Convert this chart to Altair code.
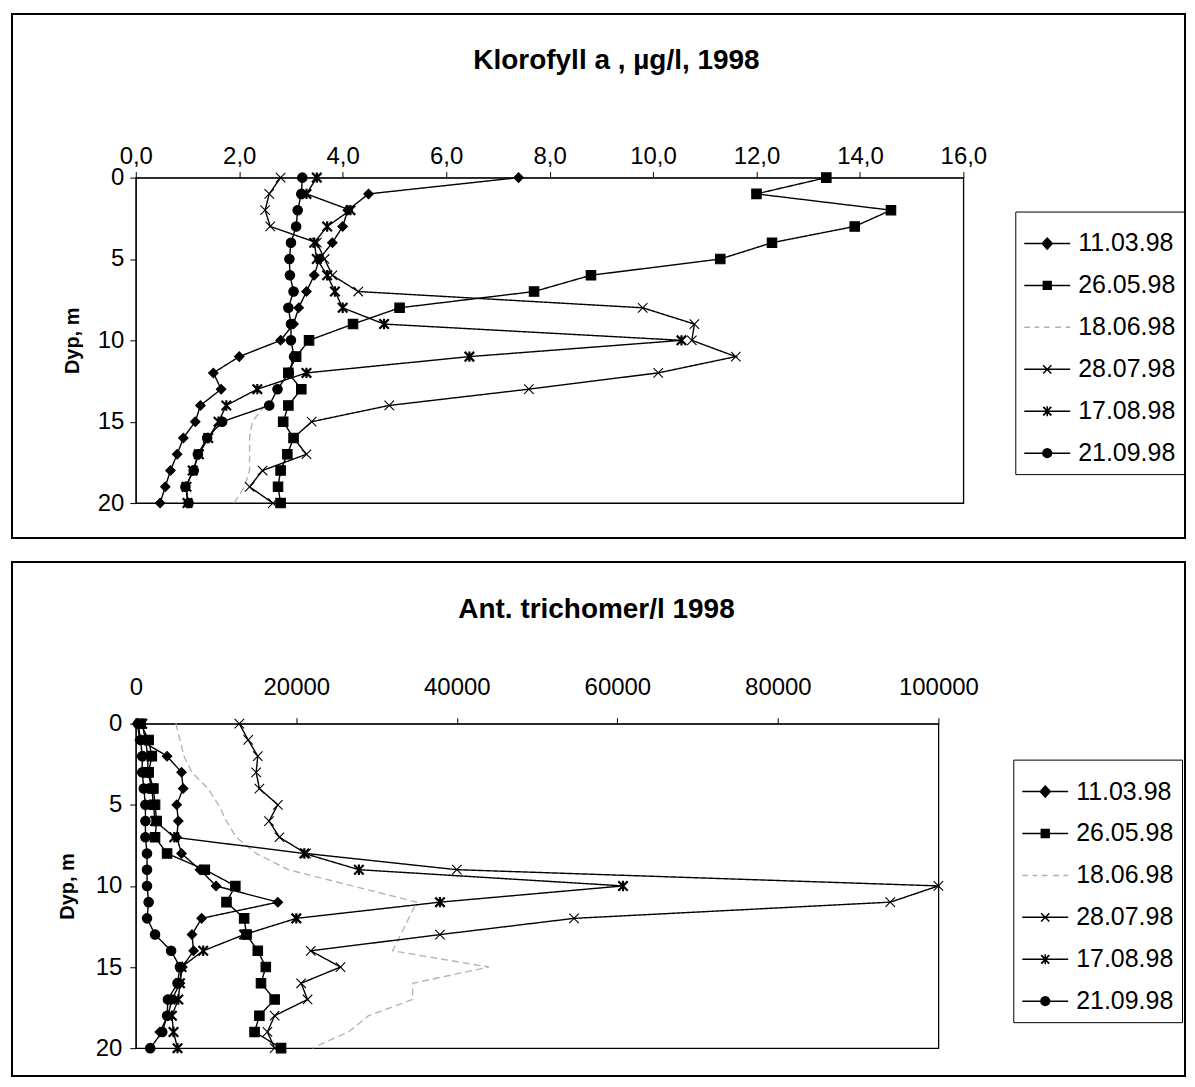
import math
import altair as alt
import pandas as pd

depths = list(range(21))
series_names = ["11.03.98", "26.05.98", "18.06.98", "28.07.98", "17.08.98", "21.09.98"]

# Klorofyll a, ug/l (one value per depth 0..20 m)
chl_1103 = [7.4, 4.5, 4.1, 4.0, 3.8, 3.55, 3.45, 3.3, 3.15, 3.05, 2.8, 2.0, 1.5, 1.65, 1.25, 1.15, 0.92, 0.8, 0.67, 0.57, 0.47]
chl_2605 = [13.35, 12.0, 14.6, 13.9, 12.3, 11.3, 8.8, 7.7, 5.1, 4.2, 3.35, 3.1, 2.95, 3.2, 2.95, 2.85, 3.05, 2.93, 2.8, 2.75, 2.8]
chl_1806 = [None] * 14 + [2.5, 2.25, 2.2, 2.2, 2.2, 2.1, 1.9]
chl_2807 = [2.8, 2.58, 2.5, 2.6, 3.5, 3.65, 3.8, 4.3, 9.8, 10.8, 10.75, 11.6, 10.1, 7.6, 4.9, 3.4, 3.05, 3.3, 2.45, 2.2, 2.65]
chl_1708 = [3.5, 3.3, 4.15, 3.7, 3.45, 3.5, 3.7, 3.85, 4.0, 4.8, 10.55, 6.45, 3.3, 2.35, 1.75, 1.6, 1.4, 1.22, 1.1, 0.98, 1.0]
chl_2109 = [3.22, 3.2, 3.13, 3.1, 3.0, 2.97, 2.98, 3.05, 2.95, 3.0, 3.0, 3.06, 2.96, 2.74, 2.58, 1.67, 1.38, 1.2, 1.12, 0.96, 1.02]

# Ant. trichomer/l
tri_1103 = [200, 500, 3900, 5700, 5900, 5100, 5300, 5100, 5700, 8000, 10000, 17700, 8200, 7000, 7200, 5800, 5500, 4500, 4000, 3000, None]
tri_2605 = [600, 1600, 2000, 1600, 2200, 2400, 2600, 2400, 3900, 8600, 12400, 11300, 13500, 13800, 15200, 16200, 15600, 17300, 15400, 14800, 18100]
tri_1806 = [5000, 5500, 6000, 7000, 9000, 10300, 11300, 12500, 15000, 19000, 27000, 35000, 34000, 33000, 32000, 44000, 34500, 34500, 29000, 26500, 22000]
tri_2807 = [12900, 14000, 15200, 15000, 15400, 17700, 16600, 17900, 21200, 40000, 100000, 94000, 54600, 37900, 21800, 25500, 20600, 21400, 17300, 16400, 17300]
tri_1708 = [800, 1200, 1500, 1500, 2000, 2200, 2400, 4800, 21000, 27800, 60700, 37900, 20000, 13500, 8400, 5700, 5500, 5300, 4500, 4700, 5200]
tri_2109 = [300, 600, 800, 800, 1000, 1200, 1200, 1200, 1400, 1400, 1400, 1600, 1400, 2400, 4400, 5500, 5200, 4000, 3900, 3300, 1800]

chl_ticks = [0, 2, 4, 6, 8, 10, 12, 14, 16]
tri_ticks = [0, 20000, 40000, 60000, 80000, 100000]
depth_ticks = [0, 5, 10, 15, 20]

FONT = "Liberation Sans"

line_colors = ["black", "black", "#b5b5b5", "black", "black", "black"]
line_dashes = [[1, 0], [1, 0], [7, 4], [1, 0], [1, 0], [1, 0]]

marker_names = ["11.03.98", "26.05.98", "28.07.98", "17.08.98", "21.09.98"]
X_PATH = "M-1,-1L1,1M-1,1L1,-1"
AST_PATH = "M-1,-1L1,1M-1,1L1,-1M0,-1.1L0,1.1"
marker_shapes = ["diamond", "square", X_PATH, AST_PATH, "circle"]


# legend symbols: a line with a (stroke-hatched, so solid-looking) marker
def hatched(halfwidth_fn, r):
    parts = []
    y = -r
    while y <= r + 1e-9:
        hw = halfwidth_fn(y)
        if hw > 0:
            parts.append(f"M{-hw:.3f},{y:.3f}L{hw:.3f},{y:.3f}")
        y += 0.035
    return "".join(parts)


LINE = "M-1,0L1,0"
leg_diamond = LINE + "M0,-0.24L0.22,0L0,0.24L-0.22,0Z" + hatched(lambda y: 0.22 * (1 - abs(y) / 0.24), 0.24)
leg_square = LINE + "M-0.17,-0.17L0.17,-0.17L0.17,0.17L-0.17,0.17Z" + hatched(lambda y: 0.17, 0.17)
leg_dash = "M-1,0L-0.75,0M-0.55,0L-0.35,0M-0.15,0L0.1,0M0.35,0L0.6,0M0.8,0L1,0"
leg_x = LINE + "M-0.18,-0.18L0.18,0.18M-0.18,0.18L0.18,-0.18"
leg_ast = LINE + "M-0.18,-0.18L0.18,0.18M-0.18,0.18L0.18,-0.18M0,-0.22L0,0.22M-0.15,-0.18L0.15,0.18M-0.15,0.18L0.15,-0.18"
leg_circle = LINE + "M0.19,0A0.19,0.19 0 1,1 -0.19,0A0.19,0.19 0 1,1 0.19,0Z" + hatched(
    lambda y: math.sqrt(max(0.0, 0.19 ** 2 - y ** 2)), 0.19)
legend_paths = [leg_diamond, leg_square, leg_dash, leg_x, leg_ast, leg_circle]
legend_colors = ["black", "black", "#b0b0b0", "black", "black", "black"]


def long_df(cols):
    rows = []
    for name, vals in zip(series_names, cols):
        for d, v in zip(depths, vals):
            if v is not None:
                rows.append({"series": name, "depth": d, "value": v})
    return pd.DataFrame(rows)


def panel(df, xdomain, xticks, label_expr, title, title_x, title_pad, w, h,
          lx, ly, rect, ytitle_pad, xlabel_pad, ylabel_pad):
    xenc = alt.X(
        "value:Q",
        scale=alt.Scale(domain=xdomain, nice=False, zero=False),
        axis=alt.Axis(
            orient="top", values=xticks, labelExpr=label_expr, title=title,
            titleX=title_x, titleAlign="center", titlePadding=title_pad,
            titleFontSize=28, titleFontWeight="bold", titleFont=FONT,
            labelFontSize=24, labelFont=FONT, labelPadding=xlabel_pad,
            tickSize=6, grid=False, domainColor="black", tickColor="black",
            labelColor="black", titleColor="black", labelFlush=False,
        ),
    )
    yenc = alt.Y(
        "depth:Q",
        scale=alt.Scale(domain=[0, 20], reverse=True, nice=False),
        axis=alt.Axis(
            values=depth_ticks, title="Dyp, m", titleFontSize=20,
            titleFontWeight="bold", titleFont=FONT, titlePadding=ytitle_pad,
            labelFontSize=24, labelFont=FONT, labelPadding=ylabel_pad,
            tickSize=6, grid=False, domainColor="black", tickColor="black",
            labelColor="black", titleColor="black", labelFlush=False,
        ),
    )
    frame = alt.Chart(pd.DataFrame({"k": [0]})).mark_rect(
        fillOpacity=0, stroke="black", strokeWidth=2
    ).encode(
        x=alt.value(rect[0]), x2=alt.value(rect[1]),
        y=alt.value(rect[2]), y2=alt.value(rect[3]),
    )
    lines = alt.Chart(df).mark_line(strokeWidth=1.4).encode(
        x=xenc, y=yenc, detail="series:N", order="depth:Q",
        color=alt.Color("series:N", scale=alt.Scale(domain=series_names, range=line_colors), legend=None),
        strokeDash=alt.StrokeDash("series:N", scale=alt.Scale(domain=series_names, range=line_dashes), legend=None),
    )
    pts = alt.Chart(df).transform_filter(
        alt.datum.series != "18.06.98"
    ).mark_point(filled=True, color="black", stroke="black", opacity=1, size=90).encode(
        x=xenc, y=yenc,
        shape=alt.Shape("series:N", scale=alt.Scale(domain=marker_names, range=marker_shapes), legend=None),
        strokeWidth=alt.condition(alt.datum.series == "17.08.98", alt.value(2.2), alt.value(1.1)),
    )
    leg_props = dict(
        title=None, orient="none", legendX=lx, legendY=ly,
        labelFontSize=25, labelFont=FONT, labelColor="black", labelOffset=7,
        symbolSize=2116, symbolStrokeWidth=1.5, rowPadding=5, padding=8,
        strokeColor="black", fillColor="white",
    )
    leg = alt.Chart(alt.Data(values=[])).mark_point(filled=False, opacity=1).encode(
        shape=alt.Shape("series:N", scale=alt.Scale(domain=series_names, range=legend_paths),
                        legend=alt.Legend(**leg_props)),
        color=alt.Color("series:N", scale=alt.Scale(domain=series_names, range=legend_colors),
                        legend=alt.Legend(**leg_props)),
    )
    return alt.layer(frame, lines, pts, leg).resolve_scale(
        shape="independent", color="independent"
    ).properties(width=w, height=h)


top = panel(
    long_df([chl_1103, chl_2605, chl_1806, chl_2807, chl_1708, chl_2109]),
    [0, 16], chl_ticks, "replace(format(datum.value, '.1f'), '.', ',')",
    "Klorofyll a , µg/l, 1998", 481, 70, 829, 326,
    881, 34, (-124, 1051, -164, 361), 15, 3, 6,
)
bottom = panel(
    long_df([tri_1103, tri_2605, tri_1806, tri_2807, tri_1708, tri_2109]),
    [0, 100000], tri_ticks, "format(datum.value, 'd')",
    "Ant. trichomer/l 1998", 461, 52, 804, 325,
    879, 36, (-124, 1051, -162, 353), 18, 18, 8,
)

chart = alt.vconcat(top, bottom, spacing=20).properties(
    padding={"left": 2, "top": 3, "right": 0, "bottom": 0}
).configure(font=FONT).configure_view(stroke="black", strokeWidth=1.3)

chart.save("out.html", embed_options={"renderer": "svg", "actions": False})
